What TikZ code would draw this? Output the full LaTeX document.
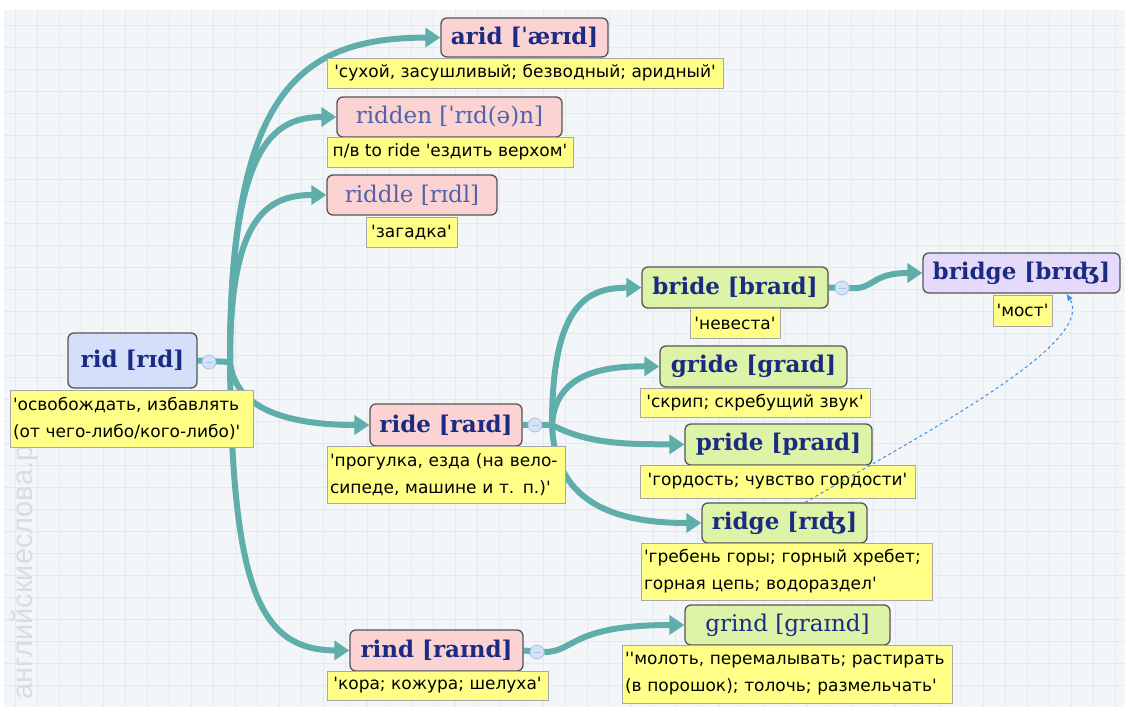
\documentclass[tikz,border=0pt]{standalone}
\usepackage{fontspec}
\setmainfont{DejaVu Serif}
\setsansfont{DejaVu Sans}[Ligatures=TeXOff]
\newfontfamily\wmfont{Liberation Sans}
\usetikzlibrary{arrows.meta}
\pgfdeclarelayer{back}
\pgfdeclarelayer{conn}
\pgfdeclarelayer{front}
\pgfsetlayers{back,conn,main,front}
\definecolor{tealc}{HTML}{5FAEAB}
\definecolor{bgc}{HTML}{F3F6F9}
\definecolor{gridc}{HTML}{DFEBF2}
\definecolor{pinkbox}{HTML}{FBD3D3}
\definecolor{greenbox}{HTML}{DCF3A8}
\definecolor{bluebox}{HTML}{D4DFFA}
\definecolor{lavbox}{HTML}{E6DAFA}
\definecolor{yel}{HTML}{FFFF88}
\definecolor{navy}{HTML}{1B2B82}
\definecolor{lblue}{HTML}{5262A8}
\definecolor{boxline}{HTML}{555555}
\definecolor{defline}{HTML}{A8A8A8}
\definecolor{dashc}{HTML}{3C8FE0}
\definecolor{circf}{HTML}{D5E2F8}
\definecolor{circl}{HTML}{A9C2E6}
\definecolor{wmc}{HTML}{DADDE0}
\tikzset{
  wordbox/.style={draw=boxline, line width=1.3pt, rounded corners=6pt, inner sep=0pt,
    font=\bfseries\fontsize{23}{26}\selectfont, text=navy},
  lightword/.style={font=\fontsize{23}{26}\selectfont, text=lblue},
  defbox/.style={draw=defline, line width=0.8pt, fill=yel, inner sep=0pt,
    font=\sffamily\fontsize{17}{27}\selectfont, text=black},
  deftwo/.style={defbox, align=left, inner xsep=3pt},
  conn/.style={draw=tealc, line width=6pt, -{Triangle[length=15pt,width=19pt]}},
  stem/.style={draw=tealc, line width=6pt},
  collapse/.style={circle, draw=circl, fill=circf, line width=0.8pt, minimum size=14pt, inner sep=0pt},
  seealso/.style={draw=dashc, line width=1pt, dashed, -{Latex[length=7pt,width=6pt]}}
}
\begin{document}
\begin{tikzpicture}[x=1pt,y=-1pt]
\useasboundingbox (0,0) rectangle (1125,707);
\begin{pgfonlayer}{back}
  \fill[white] (0,0) rectangle (1125,707);
  \fill[bgc] (4,10) rectangle (1125,707);
  \foreach \gx in {15,37,...,1125} \draw[gridc, line width=1pt] (\gx,10) -- (\gx,707);
  \foreach \gy in {25,47,...,707} \draw[gridc, line width=1pt] (4,\gy) -- (1125,\gy);
  \node[rotate=90, anchor=west, text=wmc, inner sep=0pt, font=\wmfont\fontsize{29}{29}\selectfont] (wm) at (25,700) {английскиеслова.рф};
\end{pgfonlayer}

% word boxes
\node[wordbox, fill=pinkbox, minimum width=167pt, minimum height=39pt] (arid) at (524.5,37.5) {arid [ˈærɪd]};
\node[wordbox, lightword, fill=pinkbox, minimum width=225pt, minimum height=40pt] (ridden) at (449.5,117) {ridden [ˈrɪd(ə)n]};
\node[wordbox, lightword, fill=pinkbox, minimum width=170pt, minimum height=40pt] (riddle) at (412,195) {riddle [rɪdl]};
\node[wordbox, fill=bluebox, minimum width=129pt, minimum height=55pt] (rid) at (132.5,360.5) {rid [rɪd]};
\node[wordbox, fill=pinkbox, minimum width=152pt, minimum height=42pt] (ride) at (446,425) {ride [raɪd]};
\node[wordbox, fill=greenbox, minimum width=186pt, minimum height=41pt] (bride) at (735,287.5) {bride [braɪd]};
\node[wordbox, fill=lavbox, minimum width=197pt, minimum height=40pt] (bridge) at (1021.5,273) {bridge [brɪʤ]};
\node[wordbox, fill=greenbox, minimum width=187pt, minimum height=41pt] (gride) at (753.5,366.5) {gride [graɪd]};
\node[wordbox, fill=greenbox, minimum width=187pt, minimum height=41pt] (pride) at (778.5,444.5) {pride [praɪd]};
\node[wordbox, fill=greenbox, minimum width=165pt, minimum height=40pt] (ridge) at (784.5,523) {ridge [rɪʤ]};
\node[wordbox, fill=pinkbox, minimum width=173pt, minimum height=41pt] (rind) at (436.5,650.5) {rind [raɪnd]};
\node[wordbox, fill=greenbox, minimum width=205pt, minimum height=40pt, font=\fontsize{23}{26}\selectfont] (grind) at (787.5,625) {grind [graɪnd]};

% definitions
\node[defbox, minimum width=396pt, minimum height=30pt] (aridD) at (525,73) {'сухой, засушливый; безводный; аридный'};
\node[defbox, minimum width=246pt, minimum height=30pt] (riddenD) at (450,152) {п/в to ride 'ездить верхом'};
\node[defbox, minimum width=91pt, minimum height=30pt] (riddleD) at (411.5,232) {'загадка'};
\node[deftwo, text width=237pt, minimum height=57pt] (ridD) at (131.5,418.5) {'освобождать, избавлять\\(от чего-либо/кого-либо)'};
\node[deftwo, text width=232pt, minimum height=57pt] (rideD) at (446,474.5) {'прогулка, езда (на вело-\\сипеде, машине и т. п.)'};
\node[defbox, minimum width=90pt, minimum height=30pt] (brideD) at (735,323) {'невеста'};
\node[defbox, minimum width=59pt, minimum height=31pt] (bridgeD) at (1022.5,310.5) {'мост'};
\node[defbox, minimum width=230pt, minimum height=29pt] (grideD) at (755,402.5) {'скрип; скребущий звук'};
\node[defbox, minimum width=275pt, minimum height=33pt] (prideD) at (777.5,481.5) {'гордость; чувство гордости'};
\node[deftwo, text width=285pt, minimum height=57pt] (ridgeD) at (786.5,571.5) {'гребень горы; горный хребет;\\горная цепь; водораздел'};
\node[defbox, minimum width=221pt, minimum height=29pt] (rindD) at (437.5,685.5) {'кора; кожура; шелуха'};
\node[deftwo, text width=324pt, minimum height=58pt] (grindD) at (787,674) {''молоть, перемалывать; растирать\\(в порошок); толочь; размельчать'};

% collapse buttons
\node[collapse] (ridC) at (209,362) {};
\node[collapse] (rideC) at (535,425) {};
\node[collapse] (brideC) at (842,288) {};
\node[collapse] (rindC) at (537,652) {};
\foreach \c in {ridC,rideC,brideC,rindC}
  \draw[circl, line width=1pt] ([xshift=-3.5pt]\c.center) -- ([xshift=3.5pt]\c.center);

\coordinate (ridJ) at (230,362);
\coordinate (rideJ) at (552,425);

\begin{pgfonlayer}{conn}
  \draw[stem] (rid.east) -- (ridJ);
  \draw[conn] (ridJ) .. controls (230,90) and (300,38) .. (arid.west);
  \draw[conn] (ridJ) .. controls (230,150) and (270,117) .. (ridden.west);
  \draw[conn] (ridJ) .. controls (230,220) and (265,195) .. (riddle.west);
  \draw[conn] (ridJ) .. controls (235,410) and (290,425) .. (ride.west);
  \draw[conn] (ridJ) .. controls (232,590) and (260,650) .. (rind.west);
  \draw[stem] (ride.east) -- (rideJ);
  \draw[conn] (rideJ) .. controls (552,300) and (590,288) .. (bride.west);
  \draw[conn] (rideJ) .. controls (555,375) and (600,366) .. (gride.west);
  \draw[conn] (rideJ) .. controls (590,445) and (630,444) .. (pride.west);
  \draw[conn] (rideJ) .. controls (555,500) and (610,523) .. (ridge.west);
  \draw[stem] (bride.east) -- (brideC.east);
  \draw[conn] (brideC.east) .. controls (875,290) and (870,273) .. (bridge.west);
  \draw[stem] (rind.east) -- (rindC.east);
  \draw[conn] (rindC.east) .. controls (575,652) and (570,625) .. (grind.west);
\end{pgfonlayer}

\begin{pgfonlayer}{front}
  \draw[seealso] ([xshift=20.5pt]ridge.north) .. controls (950,420) and (1095,340) .. ([xshift=45pt]bridge.south);
\end{pgfonlayer}
\end{tikzpicture}
\end{document}
